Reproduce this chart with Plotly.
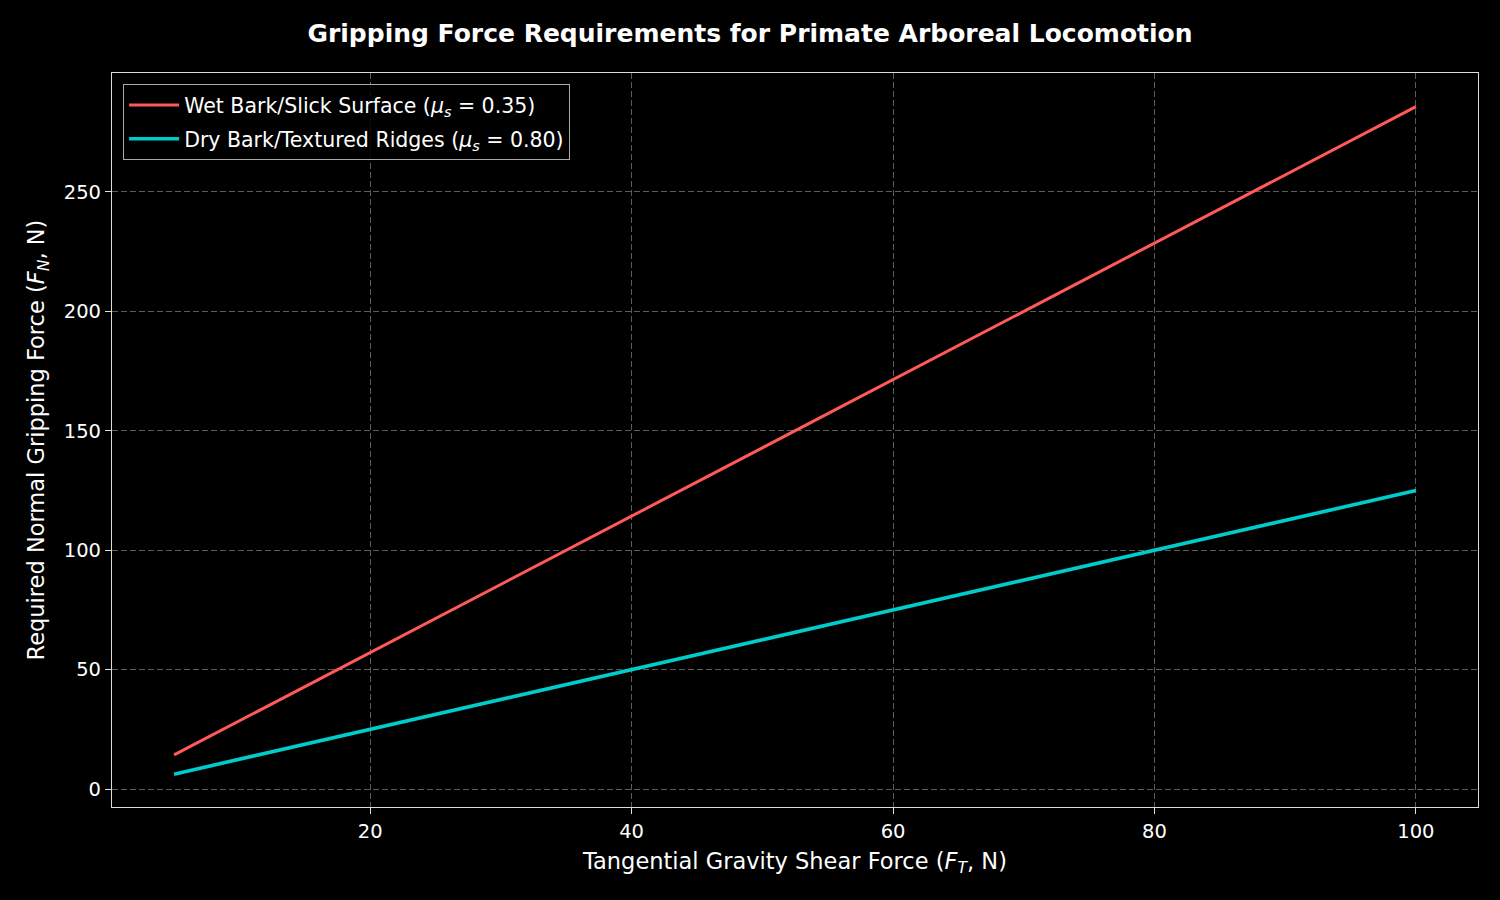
import plotly.graph_objects as go

# Data
tangential_force = [5, 20, 40, 60, 80, 100]
wet_bark_force = [14.3, 57.1, 114.3, 171.4, 228.6, 285.7]
dry_bark_force = [6.25, 25.0, 50.0, 75.0, 100.0, 125.0]

wet_label = "Wet Bark/Slick Surface (<i>μ<sub>s</sub></i> = 0.35)"
dry_label = "Dry Bark/Textured Ridges (<i>μ<sub>s</sub></i> = 0.80)"

x_ticks = [20, 40, 60, 80, 100]
y_ticks = [0, 50, 100, 150, 200, 250]

fig = go.Figure()
fig.add_trace(go.Scatter(x=tangential_force, y=wet_bark_force, mode="lines",
                         name=wet_label, legendgroup="wet",
                         line=dict(color="#FF5A57", width=3)))
fig.add_trace(go.Scatter(x=tangential_force, y=dry_bark_force, mode="lines",
                         name=dry_label, legendgroup="dry",
                         line=dict(color="#00CCCC", width=3.6)))

axis_common = dict(
    showgrid=True, gridcolor="#5c5c5c", griddash="6px,3px", gridwidth=1,
    showline=True, linecolor="#DDDDDD", linewidth=1.2, mirror=True,
    ticks="outside", ticklen=6, tickcolor="#DDDDDD", tickwidth=1,
    zeroline=False, tickfont=dict(size=19.5, color="#FFFFFF"),
)

fig.update_layout(
    width=1500, height=900,
    paper_bgcolor="#000000", plot_bgcolor="#000000",
    font=dict(family="DejaVu Sans", color="#FFFFFF"),
    margin=dict(l=112, r=22, t=73, b=93),
    title=dict(text="<b>Gripping Force Requirements for Primate Arboreal Locomotion</b>",
               x=0.5, xanchor="center", y=0.963, yanchor="middle",
               font=dict(size=25, color="#FFFFFF")),
    xaxis=dict(range=[0.25, 104.75], tickvals=x_ticks,
               title=dict(text="Tangential Gravity Shear Force (<i>F<sub>T</sub></i>, N)",
                          font=dict(size=22.5), standoff=11),
               **axis_common),
    yaxis=dict(range=[-7.5, 299.8], tickvals=y_ticks,
               title=dict(text="Required Normal Gripping Force (<i>F<sub>N</sub></i>, N)",
                          font=dict(size=22.5), standoff=12),
               **axis_common),
    legend=dict(x=0.008, y=0.985, xanchor="left", yanchor="top",
                bgcolor="rgba(0,0,0,0.85)", bordercolor="#AAAAAA", borderwidth=1.2,
                font=dict(size=20.5, color="#FFFFFF"), tracegroupgap=4,
                itemwidth=50),
    showlegend=True,
)

fig.write_html("out.html")
